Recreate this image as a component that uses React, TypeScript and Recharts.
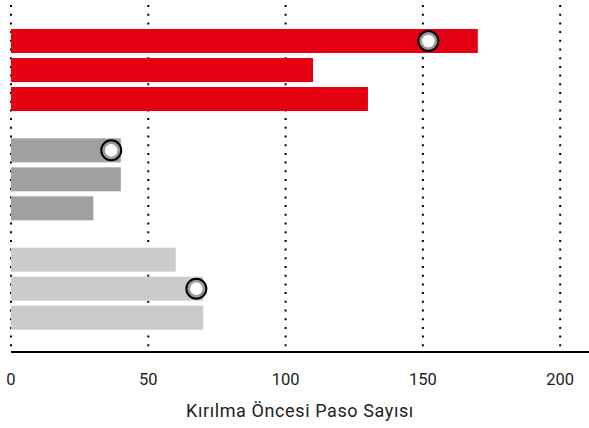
import { BarChart, Bar, XAxis, YAxis, CartesianGrid } from 'recharts';

const groups = ['Grup 1', 'Grup 2', 'Grup 3'];
const firstBar = [170, 40, 60];
const secondBar = [110, 40, 70];
const thirdBar = [130, 30, 70];
const firstMarker = [152, 36.5, null];
const secondMarker = [null, null, 67.5];
const thirdMarker = [null, null, null];
const xTicks = [0, 50, 100, 150, 200];
const groupColors = ['#E50012', '#A0A0A0', '#CACBCA'];

const data = groups.map((g, i) => ({
  group: g,
  b1: firstBar[i],
  b2: secondBar[i],
  b3: thirdBar[i],
  m1: firstMarker[i],
  m2: secondMarker[i],
  m3: thirdMarker[i],
}));

// bar rect plus the ringed marker, placed on the same linear scale as the bar
function barShape(valueKey: string, markerKey: string) {
  return (props: any) => {
    const { x, y, width, height, index, payload } = props;
    const v = payload[valueKey];
    const m = payload[markerKey];
    const cy = y + height / 2;
    const cx = m != null && v ? x + (width * m) / v : 0;
    return (
      <g>
        <rect x={x} y={y} width={width} height={height} fill={groupColors[index]} />
        {m != null && (
          <g>
            <circle cx={cx} cy={cy} r={10} fill="#9a9a9a" stroke="#000" strokeWidth={2} />
            <circle cx={cx} cy={cy} r={6.3} fill="#fff" />
          </g>
        )}
      </g>
    );
  };
}

export default function App() {
  return (
    <div style={{ position: 'absolute', left: 0, top: 0, width: 589, height: 428, fontFamily: 'Roboto' }}>
      <BarChart
        width={589}
        height={428}
        data={data}
        layout="vertical"
        margin={{ top: 5, right: 0, left: 11, bottom: 0 }}
        barSize={24}
        barGap={5}
      >
        <CartesianGrid
          horizontal={false}
          syncWithTicks
          stroke="#000"
          strokeWidth={2}
          strokeDasharray="2 6.7"
        />
        <XAxis
          type="number"
          domain={[0, 210.5]}
          ticks={xTicks}
          height={76}
          tickLine={false}
          axisLine={{ stroke: '#000', strokeWidth: 2 }}
          tick={{ fill: '#222', fontSize: 16.5 }}
          tickMargin={15.5}
          label={{
            value: 'Kırılma Öncesi Paso Sayısı',
            position: 'insideBottom',
            offset: 11,
            fill: '#222',
            fontSize: 18,
            letterSpacing: 0.6,
          }}
        />
        <YAxis
          type="category"
          dataKey="group"
          width={0}
          tick={false}
          tickLine={false}
          axisLine={{ stroke: '#000', strokeWidth: 2 }}
          padding={{ top: 10, bottom: 9 }}
        />
        <Bar dataKey="b1" shape={barShape('b1', 'm1')} isAnimationActive={false} />
        <Bar dataKey="b2" shape={barShape('b2', 'm2')} isAnimationActive={false} />
        <Bar dataKey="b3" shape={barShape('b3', 'm3')} isAnimationActive={false} />
      </BarChart>
    </div>
  );
}
